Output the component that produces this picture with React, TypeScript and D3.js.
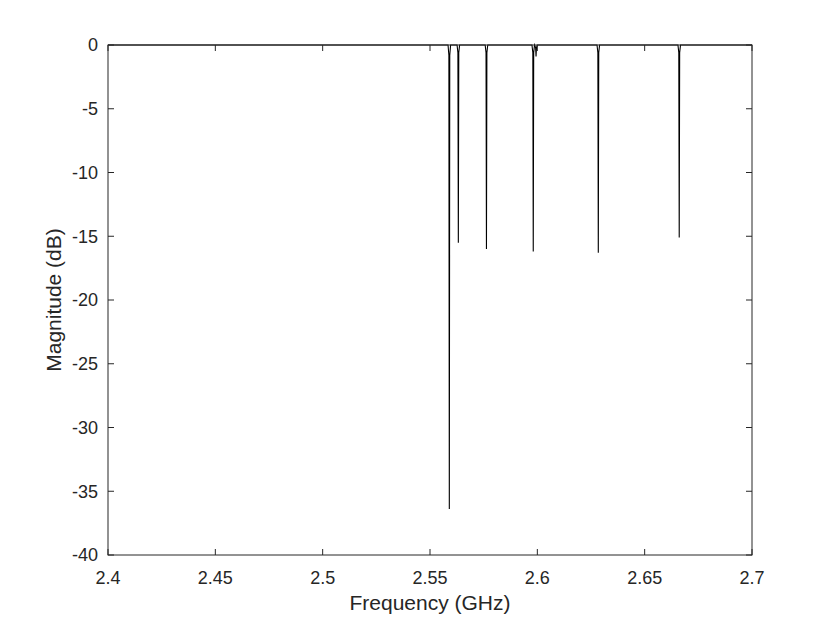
import * as d3 from "d3";
import { useEffect, useRef } from "react";

// sampled response (GHz, dB)
const freqs = [
  2.4,
  2.5584, 2.5588, 2.5590, 2.5592, 2.5596,
  2.5626, 2.5630, 2.5632, 2.5634, 2.5638,
  2.5757, 2.5761, 2.5763, 2.5765, 2.5769,
  2.5975, 2.5979, 2.5981, 2.5983, 2.5987, 2.5992, 2.5994, 2.5996, 2.6000,
  2.6278, 2.6282, 2.6284, 2.6286, 2.6290,
  2.6655, 2.6659, 2.6661, 2.6663, 2.6667,
  2.7,
];
const mags = [
  0,
  0, -0.8, -36.4, -0.8, 0,
  0, -0.6, -15.5, -0.6, 0,
  0, -0.6, -16.0, -0.6, 0,
  0, -0.6, -16.2, -0.6, 0, -0.2, -0.9, -0.2, 0,
  0, -0.6, -16.3, -0.6, 0,
  0, -0.6, -15.1, -0.6, 0,
  0,
];

const xTicks = [2.4, 2.45, 2.5, 2.55, 2.6, 2.65, 2.7];
const yTicks = [0, -5, -10, -15, -20, -25, -30, -35, -40];

const W = 830;
const H = 623;
const left = 108;
const right = 752;
const top = 45;
const bottom = 555;

function App() {
  const ref = useRef<SVGSVGElement>(null);

  useEffect(() => {
    const svg = d3.select(ref.current);
    svg.selectAll("*").remove();

    const x = d3.scaleLinear().domain([2.4, 2.7]).range([left, right]);
    const y = d3.scaleLinear().domain([-40, 0]).range([bottom, top]);

    const axisColor = "#262626";
    const font = "'Liberation Sans', Arial, Helvetica, sans-serif";

    // data line
    const line = d3
      .line<number>()
      .x((d, i) => x(freqs[i]))
      .y((d) => y(d));
    svg
      .append("path")
      .datum(mags)
      .attr("d", line)
      .attr("fill", "none")
      .attr("stroke", "#000")
      .attr("stroke-width", 1.1);

    // box
    svg
      .append("rect")
      .attr("x", left)
      .attr("y", top)
      .attr("width", right - left)
      .attr("height", bottom - top)
      .attr("fill", "none")
      .attr("stroke", axisColor)
      .attr("stroke-width", 1);

    const tick = 6;
    const g = svg.append("g").attr("stroke", axisColor).attr("stroke-width", 1);
    xTicks.forEach((t) => {
      g.append("line").attr("x1", x(t)).attr("x2", x(t)).attr("y1", bottom).attr("y2", bottom - tick);
      g.append("line").attr("x1", x(t)).attr("x2", x(t)).attr("y1", top).attr("y2", top + tick);
    });
    yTicks.forEach((t) => {
      g.append("line").attr("x1", left).attr("x2", left + tick).attr("y1", y(t)).attr("y2", y(t));
      g.append("line").attr("x1", right).attr("x2", right - tick).attr("y1", y(t)).attr("y2", y(t));
    });

    svg
      .append("g")
      .selectAll("text")
      .data(xTicks)
      .enter()
      .append("text")
      .attr("x", (d) => x(d))
      .attr("y", bottom + 29)
      .attr("text-anchor", "middle")
      .attr("font-family", font)
      .attr("font-size", 18)
      .attr("fill", axisColor)
      .text((d) => d3.format("")(d));

    svg
      .append("g")
      .selectAll("text")
      .data(yTicks)
      .enter()
      .append("text")
      .attr("x", left - 10)
      .attr("y", (d) => y(d))
      .attr("dy", "0.35em")
      .attr("text-anchor", "end")
      .attr("font-family", font)
      .attr("font-size", 18)
      .attr("fill", axisColor)
      .text((d) => String(d));

    svg
      .append("text")
      .attr("x", (left + right) / 2)
      .attr("y", 610)
      .attr("text-anchor", "middle")
      .attr("font-family", font)
      .attr("font-size", 21)
      .attr("fill", axisColor)
      .text("Frequency (GHz)");

    svg
      .append("text")
      .attr("transform", `translate(61,${(top + bottom) / 2}) rotate(-90)`)
      .attr("text-anchor", "middle")
      .attr("font-family", font)
      .attr("font-size", 21)
      .attr("fill", axisColor)
      .text("Magnitude (dB)");
  }, []);

  return (
    <svg
      ref={ref}
      width={W}
      height={H}
      style={{ position: "absolute", left: 0, top: 0, background: "#fff" }}
    />
  );
}

export default App;
